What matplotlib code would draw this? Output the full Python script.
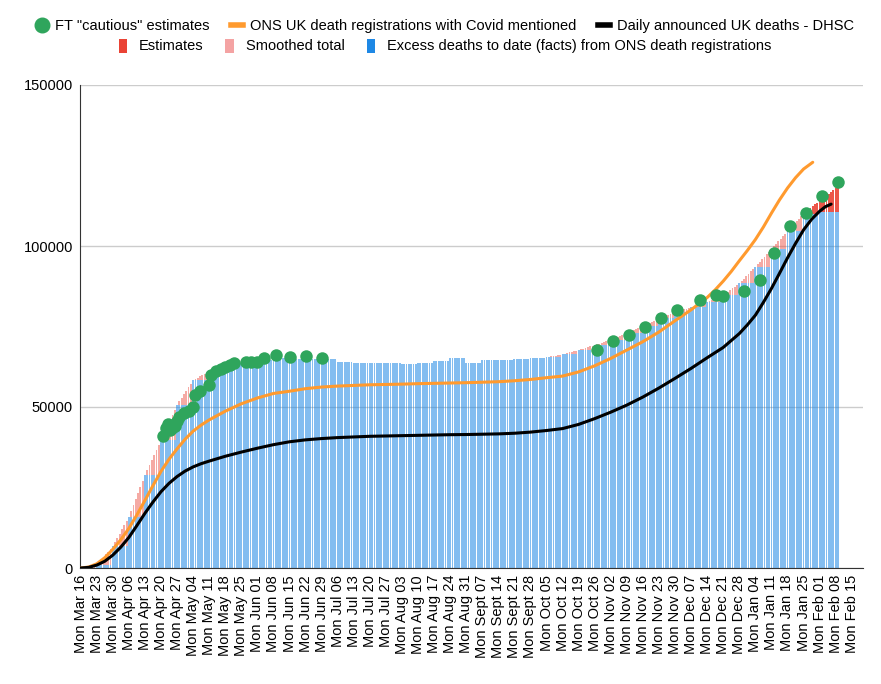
import matplotlib.pyplot as plt
import numpy as np
from matplotlib.lines import Line2D
from matplotlib.patches import Patch

plt.rcParams['font.family'] = ['Liberation Sans', 'DejaVu Sans']

# weekly tick labels (one per Monday, day 0 = Mon Mar 16 2020)
week_labels = ['Mon Mar 16', 'Mon Mar 23', 'Mon Mar 30', 'Mon Apr 06', 'Mon Apr 13', 'Mon Apr 20',
               'Mon Apr 27', 'Mon May 04', 'Mon May 11', 'Mon May 18', 'Mon May 25', 'Mon Jun 01',
               'Mon Jun 08', 'Mon Jun 15', 'Mon Jun 22', 'Mon Jun 29', 'Mon Jul 06', 'Mon Jul 13',
               'Mon Jul 20', 'Mon Jul 27', 'Mon Aug 03', 'Mon Aug 10', 'Mon Aug 17', 'Mon Aug 24',
               'Mon Aug 31', 'Mon Sept 07', 'Mon Sept 14', 'Mon Sept 21', 'Mon Sept 28', 'Mon Oct 05',
               'Mon Oct 12', 'Mon Oct 19', 'Mon Oct 26', 'Mon Nov 02', 'Mon Nov 09', 'Mon Nov 16',
               'Mon Nov 23', 'Mon Nov 30', 'Mon Dec 07', 'Mon Dec 14', 'Mon Dec 21', 'Mon Dec 28',
               'Mon Jan 04', 'Mon Jan 11', 'Mon Jan 18', 'Mon Jan 25', 'Mon Feb 01', 'Mon Feb 08',
               'Mon Feb 15']

# excess deaths to date from ONS registrations, one value per week (held for 7 days)
excess_weekly = [0, 900, 6800, 15900, 28900, 39800, 50600, 58400, 61000, 63000,
                 63600, 64600, 65100, 64800, 64800, 64800, 64100, 63700, 63700, 63700,
                 63400, 63700, 64200, 65200, 63700, 64500, 64600, 64900, 65200, 65400,
                 66400, 67700, 69250, 70800, 72900, 75150, 77540, 79600, 80950, 82500,
                 84800, 88400, 93600, 99070, 104660, 110000, 110650, 110650]
n_days = 331

# smoothed total, daily, spring rise (from day 0)
smooth_early = [0, 130, 260, 390, 510, 640, 770,
                900, 1740, 2590, 3430, 4270, 5110, 5960,
                6800, 8100, 9400, 10700, 12000, 13300, 14600,
                15900, 17760, 19610, 21470, 23330, 25190, 27040,
                28900, 30460, 32010, 33570, 35130, 36690, 38240,
                39800, 41340, 42890, 44430, 45970, 47510, 49060,
                50600, 51710, 52830, 53940, 55060, 56170, 57290,
                58400, 58770, 59140, 59510, 59890, 60260, 60630]
# smoothed total, daily, winter rise (from day 203)
smooth_late_start = 203
smooth_late = [65400, 65540, 65690, 65830, 65970, 66110, 66260,
               66400, 66590, 66770, 66960, 67140, 67330, 67510,
               67700, 67920, 68140, 68360, 68590, 68810, 69030,
               69250, 69470, 69690, 69910, 70140, 70360, 70580,
               70800, 71100, 71400, 71700, 72000, 72300, 72600,
               72900, 73220, 73540, 73860, 74190, 74510, 74830,
               75150, 75490, 75830, 76170, 76520, 76860, 77200,
               77540, 77830, 78130, 78420, 78720, 79010, 79310,
               79600, 79790, 79990, 80180, 80370, 80560, 80760,
               80950, 81170, 81390, 81610, 81840, 82060, 82280,
               82500, 82830, 83160, 83490, 83810, 84140, 84470,
               84800, 85310, 85830, 86340, 86860, 87370, 87890,
               88400, 89140, 89890, 90630, 91370, 92110, 92860,
               93600, 94380, 95160, 95940, 96730, 97510, 98290,
               99070, 99870, 100670, 101470, 102260, 103060, 103860,
               104660, 105420, 106190, 106950, 107710, 108470, 109240,
               110400, 110800]

# estimates (total), daily from day 317
est_start = 317
estimates = [111300, 111800, 112400, 112900, 113500, 114000, 114600,
             115100, 115700, 116200, 116800, 117300, 117900, 118500]

# ONS death registrations with Covid mentioned
ons_days = [0, 3.5, 7, 10.5, 14, 17.5, 21, 24.5, 28, 31.5, 35, 38.5, 42, 45.5, 49, 52.5,
            56, 63, 70, 77, 84, 91, 98, 105, 112, 119, 126, 133, 140, 147, 154, 161,
            168, 175, 182, 189, 196, 203, 210, 217, 224, 231, 238, 245, 252, 259, 266,
            273, 276.5, 280, 283.5, 287, 290.5, 294, 297.5, 301, 304.5, 308, 311.5,
            315, 319]
ons_vals = [0, 300, 1300, 3200, 5800, 8800, 12300, 16500, 21000, 25600, 30000, 33800,
            37000, 40000, 42500, 44400, 46000, 48700, 51000, 52800, 54200, 54900, 55700,
            56200, 56500, 56700, 56900, 57000, 57100, 57250, 57350, 57450, 57550, 57700,
            57850, 58150, 58550, 59100, 59600, 60900, 62800, 65100, 67700, 70300, 73300,
            76800, 80200, 84000, 86400, 89100, 92100, 95400, 98600, 102000, 105900,
            110200, 114300, 118000, 121200, 123900, 126000]

# daily announced UK deaths - DHSC
dhsc_days = [0, 3.5, 7, 10.5, 14, 17.5, 21, 24.5, 28, 31.5, 35, 38.5, 42, 45.5, 49, 52.5,
             56, 63, 70, 77, 84, 91, 98, 105, 112, 119, 126, 133, 140, 147, 154, 161,
             168, 175, 182, 189, 196, 203, 210, 217, 224, 231, 238, 245, 252, 259, 266,
             273, 280, 287, 290.5, 294, 297.5, 301, 304.5, 308, 311.5, 315, 318.5, 322,
             324.5, 327]
dhsc_vals = [0, 200, 900, 2100, 4000, 6500, 9500, 13200, 17000, 20500, 23700, 26300,
             28400, 30100, 31400, 32400, 33200, 34700, 36000, 37200, 38300, 39200, 39800,
             40200, 40500, 40700, 40900, 41000, 41100, 41200, 41300, 41400, 41450, 41550,
             41650, 41850, 42200, 42700, 43300, 44600, 46400, 48400, 50600, 53100, 55900,
             58900, 62000, 65300, 68500, 72800, 75500, 78500, 82500, 86800, 91500, 96300,
             100800, 105000, 108300, 110800, 112200, 113000]

# FT "cautious" estimates
ft_days = [36, 37, 38, 39, 40, 41, 42, 43, 45, 47, 49, 50, 52, 56, 57, 59, 61, 63,
           65, 67, 72, 74, 77, 80, 85, 91, 98, 105,
           225, 232, 239, 246, 253, 260, 270, 277, 280, 289, 296, 302, 309, 316, 323, 330]
ft_vals = [41000, 43400, 44600, 43000, 43500, 44200, 45500, 46800, 48000, 48800, 50100,
           53800, 55000, 56800, 59800, 61200, 61700, 62300, 63000, 63800, 63900, 64100,
           64100, 65100, 66100, 65500, 65700, 65200,
           67700, 70500, 72300, 74900, 77700, 80100, 83100, 84900, 84500, 86000, 89400,
           97700, 106300, 110400, 115400, 120000]

BLUE = '#1e88e5'
RED = '#ea4335'
PINK = '#f4a3a3'
ORANGE = '#ff9a2e'
GREEN = '#2fa55c'

days = np.arange(n_days)
excess = np.repeat(np.array(excess_weekly, dtype=float), 7)[:n_days]
smooth = excess.copy()
smooth[:len(smooth_early)] = smooth_early
smooth[smooth_late_start:smooth_late_start + len(smooth_late)] = smooth_late
pink = np.clip(smooth - excess, 0, None)
est_days = np.arange(est_start, est_start + len(estimates))
est_h = np.array(estimates) - excess[est_days]

fig = plt.figure(figsize=(8.81, 6.84), dpi=100)
ax = fig.add_axes([80 / 881, 116 / 684, 783 / 881, 483 / 684])

bar_w = 0.8
ax.bar(days, excess, width=bar_w, color=BLUE, alpha=0.55, linewidth=0, zorder=2)
ax.bar(days, pink, bottom=excess, width=bar_w, color=RED, alpha=0.45, linewidth=0, zorder=2)
ax.bar(est_days, est_h, bottom=excess[est_days], width=bar_w, color=RED, alpha=0.9,
       linewidth=0, zorder=2)

ax.plot(ons_days, ons_vals, color=ORANGE, lw=2.2, zorder=3, solid_capstyle='round')
ax.plot(dhsc_days, dhsc_vals, color='black', lw=2.2, zorder=3, solid_capstyle='round')
ax.plot(ft_days, ft_vals, 'o', color=GREEN, ms=9, mec='none', zorder=4)

ax.set_xlim(-0.3, 340.9)
ax.set_ylim(0, 150000)
ax.set_xticks(np.arange(len(week_labels)) * 7)
ax.set_xticklabels(week_labels, rotation=90, fontsize=10.5)
ax.set_yticks([0, 50000, 100000, 150000])
ax.set_yticklabels(['0', '50000', '100000', '150000'], fontsize=10.5)
ax.tick_params(axis='both', length=0, pad=5)
ax.yaxis.grid(True, color='#cccccc', lw=1)
ax.set_axisbelow(True)
for side in ['top', 'right']:
    ax.spines[side].set_visible(False)
for side in ['left', 'bottom']:
    ax.spines[side].set_color('#333333')

row1 = [Line2D([], [], marker='o', color=GREEN, ls='none', ms=10.5),
        Line2D([], [], color=ORANGE, lw=4),
        Line2D([], [], color='black', lw=4)]
fig.legend(row1, ['FT "cautious" estimates', 'ONS UK death registrations with Covid mentioned',
                  'Daily announced UK deaths - DHSC'],
           loc='center', bbox_to_anchor=(445 / 881, 1 - 26 / 684), ncol=3, frameon=False,
           fontsize=10.5, handlelength=0.8, handletextpad=0.5, columnspacing=1.5)
row2 = [Patch(facecolor=RED), Patch(facecolor=PINK), Patch(facecolor=BLUE)]
fig.legend(row2, ['Estimates', 'Smoothed total',
                  'Excess deaths to date (facts) from ONS death registrations'],
           loc='center', bbox_to_anchor=(445 / 881, 1 - 46 / 684), ncol=3, frameon=False,
           fontsize=10.5, handlelength=0.6, handleheight=1.1, handletextpad=0.8,
           columnspacing=1.5)

fig.savefig('out.png', dpi=100)
